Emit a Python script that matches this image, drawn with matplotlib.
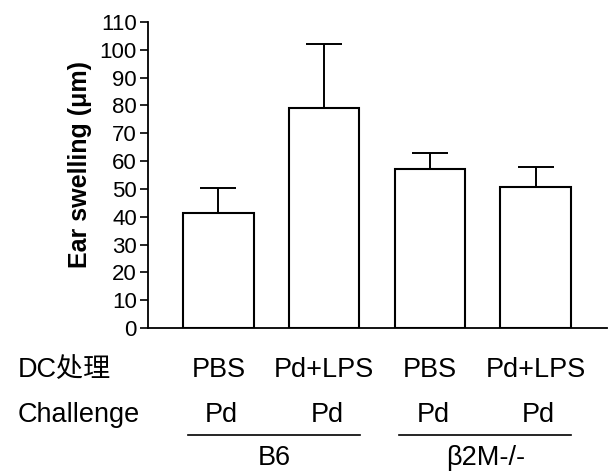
import matplotlib
matplotlib.use("Agg")
import matplotlib.pyplot as plt
import matplotlib.transforms as mtransforms

# ---- data ----
dc_treatment = ["PBS", "Pd+LPS", "PBS", "Pd+LPS"]
challenge = ["Pd", "Pd", "Pd", "Pd"]
groups = ["B6", "\u03b22M-/-"]
means = [41.5, 79.0, 57.0, 50.7]
errors = [9.0, 23.0, 6.0, 7.0]
yticks = [0, 10, 20, 30, 40, 50, 60, 70, 80, 90, 100, 110]

plt.rcParams['font.family'] = ['Liberation Sans', 'Noto Sans CJK SC', 'DejaVu Sans']

fig = plt.figure(figsize=(6.1, 4.72), dpi=100)
ax = fig.add_axes([148/610, 1-328/472, (607-148)/610, (328-22)/472])

x = list(range(len(means)))
ax.bar(x, means, width=0.667, color='white', edgecolor='black', linewidth=1.5, zorder=2)
ax.errorbar(x, means, yerr=[[0]*len(errors), errors], fmt='none', ecolor='black',
            elinewidth=1.4, capsize=13, capthick=1.4, zorder=1)

ax.set_xlim(-0.667, 3.676)
ax.set_ylim(0, 110)
ax.set_yticks(yticks)
ax.set_yticklabels([str(t) for t in yticks], fontsize=16)
ax.tick_params(axis='y', direction='out', length=6, width=1.2, pad=2)
ax.set_xticks([])
for s in ['top', 'right']:
    ax.spines[s].set_visible(False)
for s in ['left', 'bottom']:
    ax.spines[s].set_linewidth(1.3)

fig.text(80/610, 1-164.5/472, "Ear swelling (\u03bcm)", rotation=90, ha='center', va='center',
         fontsize=18, fontweight='bold')

tr = mtransforms.blended_transform_factory(ax.transData, fig.transFigure)
fs = 19.5
fig.text(18/610, 1-377/472, "DC处理", ha='left', va='baseline', fontsize=fs)
fig.text(18/610, 1-422/472, "Challenge", ha='left', va='baseline', fontsize=fs)
for i in x:
    ax.text(i, 1-377/472, dc_treatment[i], transform=tr, ha='center', va='baseline', fontsize=fs)
    ax.text(i + 0.03, 1-422/472, challenge[i], transform=tr, ha='center', va='baseline', fontsize=fs)

for g, name in enumerate(groups):
    a, b = 2*g, 2*g + 1
    mid = (a + b) / 2
    ax.plot([a - 0.29, b + 0.34], [1-435/472]*2, transform=tr, color='black', lw=1.2,
            clip_on=False)
    ax.text(mid + 0.03, 1-465/472, name, transform=tr, ha='center', va='baseline', fontsize=fs)

fig.savefig("out.png", dpi=100, facecolor='white')
